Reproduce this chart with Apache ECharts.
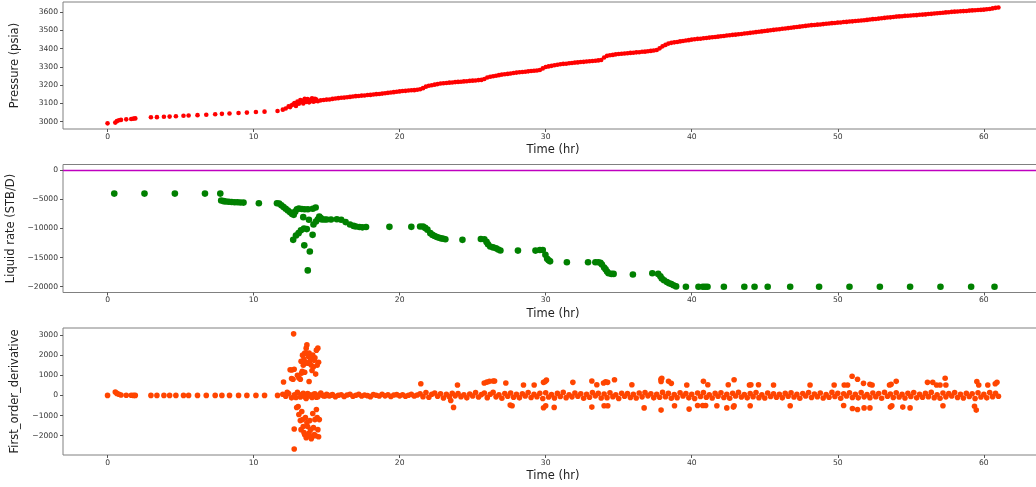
<!DOCTYPE html>
<html><head><meta charset="utf-8">
<script src="https://cdn.jsdelivr.net/npm/echarts@6/dist/echarts.min.js"></script>
<style>html,body{margin:0;padding:0;background:#fff}#c{width:1036px;height:487px}</style>
</head><body><div id="c"></div>
<script>
// ---- shared time base for pressure and its derivative (hr) ----
const timeHr = [0,0.53,0.64,0.78,0.92,1.28,1.62,1.78,1.9,2.97,3.38,3.86,4.25,4.68,5.2,5.55,6.16,6.76,7.37,7.83,8.35,8.97,9.54,10.16,10.75,11.64,
12,12.2,12.4,12.6,12.8,13,13.2,13.4,13.6,13.8,
14,14.2,14.4,14.6,14.8,15,15.2,15.4,15.6,15.8,
16,16.2,16.4,16.6,16.8,17,17.2,17.4,17.6,17.8,
18,18.2,18.4,18.6,18.8,19,19.2,19.4,19.6,19.8,
20,20.2,20.4,20.6,20.8,21,21.2,21.4,21.6,21.8,
22,22.2,22.4,22.6,22.8,23,23.2,23.4,23.6,23.8,
24,24.2,24.4,24.6,24.8,25,25.2,25.4,25.6,25.8,
26,26.2,26.4,26.6,26.8,27,27.2,27.4,27.6,27.8,
28,28.2,28.4,28.6,28.8,29,29.2,29.4,29.6,29.8,
30,30.2,30.4,30.6,30.8,31,31.2,31.4,31.6,31.8,
32,32.2,32.4,32.6,32.8,33,33.2,33.4,33.6,33.8,
34,34.2,34.4,34.6,34.8,35,35.2,35.4,35.6,35.8,
36,36.2,36.4,36.6,36.8,37,37.2,37.4,37.6,37.8,
38,38.2,38.4,38.6,38.8,39,39.2,39.4,39.6,39.8,
40,40.2,40.4,40.6,40.8,41,41.2,41.4,41.6,41.8,
42,42.2,42.4,42.6,42.8,43,43.2,43.4,43.6,43.8,
44,44.2,44.4,44.6,44.8,45,45.2,45.4,45.6,45.8,
46,46.2,46.4,46.6,46.8,47,47.2,47.4,47.6,47.8,
48,48.2,48.4,48.6,48.8,49,49.2,49.4,49.6,49.8,
50,50.2,50.4,50.6,50.8,51,51.2,51.4,51.6,51.8,
52,52.2,52.4,52.6,52.8,53,53.2,53.4,53.6,53.8,
54,54.2,54.4,54.6,54.8,55,55.2,55.4,55.6,55.8,
56,56.2,56.4,56.6,56.8,57,57.2,57.4,57.6,57.8,
58,58.2,58.4,58.6,58.8,59,59.2,59.4,59.6,59.8,
60,60.2,60.4,60.6,60.8,61];

const pressurePsia = [2991,2995,3003,3008,3010,3013,3015,3017,3018,3024,3025,3027,3028,3030,3033,3034,3036,3038,3041,3043,3045,3048,3050,3053,3055,3059,
3066,3072,3084,3090,3097,3104,3108,3116,3122,3118,
3120,3114,3112,3117,3119,3121,3122,3125,3127,3129,
3131,3132,3134,3136,3138,3140,3141,3143,3144,3146,
3147,3149,3151,3152,3154,3156,3158,3160,3162,3164,
3166,3168,3169,3171,3172,3173,3175,3178,3184,3192,
3197,3200,3203,3206,3209,3211,3212,3214,3215,3217,
3218,3219,3221,3222,3224,3225,3226,3228,3229,3234,
3242,3246,3249,3252,3255,3258,3260,3262,3264,3267,
3269,3271,3272,3274,3276,3278,3279,3281,3283,3292,
3300,3303,3306,3309,3312,3315,3317,3318,3320,3322,
3324,3325,3327,3328,3330,3331,3333,3334,3336,3338,
3352,3361,3364,3366,3369,3371,3372,3374,3375,3377,
3378,3380,3381,3383,3384,3386,3388,3390,3393,3402,
3413,3421,3428,3432,3435,3437,3440,3442,3445,3447,
3450,3452,3454,3455,3457,3459,3461,3463,3464,3466,
3468,3470,3472,3474,3476,3477,3479,3481,3483,3485,
3487,3489,3491,3493,3495,3497,3499,3501,3503,3505,
3507,3509,3511,3513,3515,3517,3519,3521,3523,3525,
3527,3529,3530,3532,3533,3535,3537,3538,3540,3541,
3543,3544,3546,3547,3549,3550,3552,3553,3555,3556,
3558,3560,3562,3563,3565,3567,3569,3571,3572,3574,
3576,3577,3578,3580,3581,3582,3583,3584,3586,3587,
3588,3590,3591,3593,3594,3596,3597,3599,3600,3602,
3603,3604,3605,3606,3607,3609,3610,3611,3612,3613,
3614,3616,3618,3621,3624,3626];

// extra scattered pressure readings in the 12.5-14.3 hr disturbance
const pressureClusterTime  = [12.5,12.7,12.8,12.9,13.0,13.1,13.2,13.3,13.4,13.5,13.6,13.7,13.8,13.9,14.0,14.1,14.2,14.3];
const pressureClusterValue = [3080,3094,3102,3086,3110,3098,3118,3112,3100,3126,3108,3124,3106,3112,3128,3110,3126,3122];

const derivative = [0,170,100,60,20,10,5,0,0,0,0,0,0,0,0,0,0,0,0,0,0,0,0,0,0,0,
60,-40,90,-120,30,150,-80,110,-150,40,
-100,80,-60,120,-30,50,-20,40,-60,10,
30,-50,20,60,-40,10,50,-30,20,-10,
-60,40,10,-30,60,-20,30,-50,20,40,
-20,30,-40,10,50,-30,20,80,-60,140,
-90,60,120,-40,80,-130,50,-70,110,-20,
90,-60,30,-120,70,-30,140,-80,40,120,
-110,60,150,-70,30,-140,90,-40,120,-90,
50,-120,80,-30,140,-100,60,-60,110,-150,
130,-80,40,-130,100,-50,150,-110,30,-70,
120,-40,80,-140,60,-90,140,-20,100,-130,
70,-110,130,-60,30,-150,110,-40,90,-100,
50,-130,120,-70,140,-20,80,-120,60,-90,
150,-60,100,-140,40,-110,130,-30,90,-120,
60,-150,120,-50,140,-90,30,-130,100,-40,
130,-100,60,-140,110,-30,150,-80,40,-120,
90,-60,140,-110,30,-130,120,-50,80,-90,
60,-120,100,-40,130,-80,50,-140,90,-30,
140,-100,70,-60,120,-130,40,-90,150,-50,
110,-140,80,-30,130,-100,60,-120,140,-70,
40,-110,120,-60,90,-140,150,-40,70,-100,
130,-80,50,-130,110,-50,140,-120,60,-90,
100,-60,150,-110,30,-140,120,-70,90,-30,
140,-100,60,-130,110,-50,80,-150,130,-80,
50,-120,140,-60,100,-40];

// derivative readings off the main band
const derivOutlierTime = [12.05,12.5,12.62,12.6,12.74,12.78,12.7,13.1,13.2,13.28,13.33,13.4,13.25,13.35,13.45,13.5,13.55,13.6,13.65,13.7,13.75,13.8,13.85,13.9,13.95,14.0,14.05,14.1,14.15,14.2,14.25,14.3,14.35,14.4,14.45,13.8,13.0,13.5,
12.78,12.78,13.05,13.1,13.2,13.25,13.3,13.35,13.4,13.45,13.5,13.55,13.6,13.65,13.7,13.75,13.8,13.85,13.9,13.95,14.0,14.05,14.1,14.15,14.2,14.25,14.3,14.35,14.4,14.45,14.5,12.95,
12.3,12.9,13.3,13.5,13.7,13.9,14.1,14.3,14.5,14.7,14.9,15.1,15.3,
21.45,23.5,23.69,23.96,25.79,25.97,26.15,26.4,26.5,27.27,27.57,27.7,28.48,29.21,29.85,30.05,29.95,29.85,30.0,30.58,31.86,33.16,33.5,33.16,33.96,34.1,34.24,34.71,34.0,34.25,35.9,36.74,37.89,37.95,37.9,37.9,38.41,38.6,38.82,39.66,39.82,
40.4,40.8,40.75,40.95,41.1,41.72,42.4,42.5,42.9,42.9,42.85,43.95,44.05,44.0,44.57,45.6,46.74,48.1,49.75,50.44,50.67,50.98,51.35,51.76,52.2,52.35,50.4,51.0,51.35,51.8,52.2,53.54,53.65,54.0,53.6,53.7,54.45,54.95,56.14,56.5,56.76,57.0,57.35,57.4,57.2,59.52,59.65,59.36,59.48,60.27,60.78,60.9];
const derivOutlierValue = [665,1275,1260,840,3060,1300,800,870,800,1100,1200,1500,1700,2000,1800,2100,1650,2350,2510,1600,1950,2100,1700,1900,1500,1240,2000,1420,1750,1870,1060,2250,1500,2350,1650,690,1000,1150,
-2660,-1670,-550,-950,-1250,-1700,-800,-1200,-1550,-1850,-1950,-1100,-2100,-1350,-1550,-2000,-1870,-1250,-1700,-2150,-2050,-900,-1600,-1950,-1200,-2000,-700,-1100,-1700,-2050,-1200,-600,
150,-100,40,-70,90,-30,60,-90,30,20,-20,0,10,
580,-250,-595,515,615,660,700,720,720,615,-480,-510,515,515,650,760,680,-610,-510,-595,650,720,530,-580,615,680,650,780,-510,-510,530,-620,800,850,690,-730,700,600,-510,515,-680,
-500,700,-500,-500,530,-510,-620,530,780,-510,-580,515,530,-510,530,515,-510,515,515,515,515,950,800,600,550,515,-500,-650,-700,-620,-620,515,550,700,-580,-510,-580,-620,650,650,515,515,850,515,-510,690,515,-540,-730,515,580,650];

// ---- liquid rate (STB/D) ----
const rateTimeHr = [0.46,2.53,4.61,6.67,7.72,7.78,7.95,8.1,8.3,8.5,8.7,8.9,9.1,9.31,10.36,11.6,11.75,11.9,12.05,12.2,12.35,12.5,12.64,12.75,12.85,12.97,13.1,13.3,13.5,13.72,14.05,14.25,
12.71,12.9,13.08,13.24,13.45,13.64,14.04,13.47,13.85,13.71,13.4,13.79,14.1,14.27,14.4,14.5,14.6,
14.68,14.85,15.0,15.3,15.7,16.0,16.3,16.6,16.85,17.0,17.25,17.45,17.7,19.3,20.8,21.4,21.6,21.75,21.9,22.1,22.25,22.4,22.55,22.7,22.85,23.0,23.13,24.3,25.56,25.8,25.95,26.05,26.2,26.4,26.6,26.75,26.9,28.1,29.3,29.6,29.8,29.98,30.1,30.2,30.3,31.45,32.9,33.4,33.6,33.75,33.85,34.0,34.1,34.2,34.3,34.5,34.65,35.97,37.3,37.7,37.85,37.95,38.1,38.3,38.45,38.6,38.75,38.93,39.6,40.46,40.76,40.92,41.08,42.2,43.6,44.3,45.2,46.74,48.72,50.8,52.88,54.95,57.03,59.13,60.73];
const liquidRate = [-4000,-4000,-4000,-4000,-4000,-5200,-5300,-5350,-5400,-5450,-5500,-5500,-5520,-5550,-5650,-5650,-5700,-6000,-6300,-6600,-6900,-7200,-7500,-7650,-7100,-6700,-6550,-6650,-6700,-6700,-6600,-6400,
-11950,-11200,-10800,-10300,-10000,-10100,-11090,-12900,-13950,-17200,-8050,-8500,-9300,-8800,-8400,-7950,-8200,
-8450,-8450,-8460,-8450,-8400,-8500,-8900,-9300,-9550,-9650,-9750,-9800,-9750,-9720,-9720,-9650,-9650,-9900,-10200,-10800,-11100,-11300,-11450,-11600,-11700,-11750,-11850,-11950,-11800,-11850,-12300,-12700,-13100,-13250,-13400,-13600,-13780,-13800,-13800,-13700,-13700,-14500,-15200,-15450,-15650,-15800,-15800,-15800,-15800,-15900,-16200,-16700,-17000,-17400,-17700,-17800,-17800,-17900,-17700,-17800,-18200,-18600,-18900,-19200,-19400,-19550,-19750,-19950,-20000,-20000,-20000,-20000,-20000,-20000,-20000,-20000,-20000,-20000,-20000,-20000,-20000,-20000,-20000,-20000,-20000];

const axisNames = {pressure:'Pressure (psia)', rate:'Liquid rate (STB/D)', deriv:'First_order_derivative', time:'Time (hr)'};

// ---------------- chart ----------------
const FONT = 'DejaVu Sans';
const zip = (a, b) => a.map((v, i) => [v, b[i]]);
const minusFmt = v => String(v).replace('-', '\u2212');
const tickLabel = {fontFamily: FONT, fontSize: 7.6, color: '#333'};
const nameStyle = {fontFamily: FONT, fontSize: 11.5, color: '#222'};
const gridBase = {left: 63, width: 980, outerBoundsMode: 'none', containLabel: false,
  show: true, borderColor: '#808080', borderWidth: 1, backgroundColor: 'transparent'};

function xAx(gi) {
  return {type: 'value', gridIndex: gi, min: -3.05, max: 64.05,
    name: axisNames.time, nameLocation: 'middle', nameGap: 15.5, nameTextStyle: nameStyle,
    axisLine: {show: false, onZero: false},
    axisTick: {show: true, length: 3, lineStyle: {color: '#555'}},
    axisLabel: Object.assign({margin: 4, showMinLabel: false, showMaxLabel: false, formatter: minusFmt}, tickLabel),
    splitLine: {show: false}};
}
function yAx(gi, name, min, max) {
  return {type: 'value', gridIndex: gi, min: min, max: max,
    name: name, nameLocation: 'middle', nameGap: 42, nameTextStyle: nameStyle,
    axisLine: {show: false, onZero: false},
    axisTick: {show: true, length: 3, lineStyle: {color: '#555'}},
    axisLabel: Object.assign({margin: 5, showMinLabel: false, showMaxLabel: false, formatter: minusFmt}, tickLabel),
    splitLine: {show: false}};
}

const chart = echarts.init(document.getElementById('c'), null, {renderer: 'canvas'});
chart.setOption({
  animation: false,
  backgroundColor: '#fff',
  grid: [
    Object.assign({top: 2, height: 127}, gridBase),
    Object.assign({top: 164.5, height: 128}, gridBase),
    Object.assign({top: 328, height: 127}, gridBase)
  ],
  xAxis: [xAx(0), xAx(1), xAx(2)],
  yAxis: [
    yAx(0, axisNames.pressure, 2960, 3656),
    yAx(1, axisNames.rate, -21000, 1000),
    yAx(2, axisNames.deriv, -2960, 3350)
  ],
  series: [
    {type: 'scatter', xAxisIndex: 0, yAxisIndex: 0, symbolSize: 4.6,
     itemStyle: {color: '#ff0000', opacity: 1},
     data: zip(timeHr, pressurePsia).concat(zip(pressureClusterTime, pressureClusterValue))},
    {type: 'scatter', xAxisIndex: 1, yAxisIndex: 1, symbolSize: 6.6,
     itemStyle: {color: '#008000', opacity: 1},
     data: zip(rateTimeHr, liquidRate),
     markLine: {silent: true, symbol: ['none', 'none'], label: {show: false},
       lineStyle: {color: '#bf00bf', width: 1.4, type: 'solid'}, data: [{yAxis: 0}]}},
    {type: 'scatter', xAxisIndex: 2, yAxisIndex: 2, symbolSize: 5.6,
     itemStyle: {color: '#ff4500', opacity: 1},
     data: zip(timeHr, derivative).concat(zip(derivOutlierTime, derivOutlierValue))}
  ]
});
</script></body></html>
